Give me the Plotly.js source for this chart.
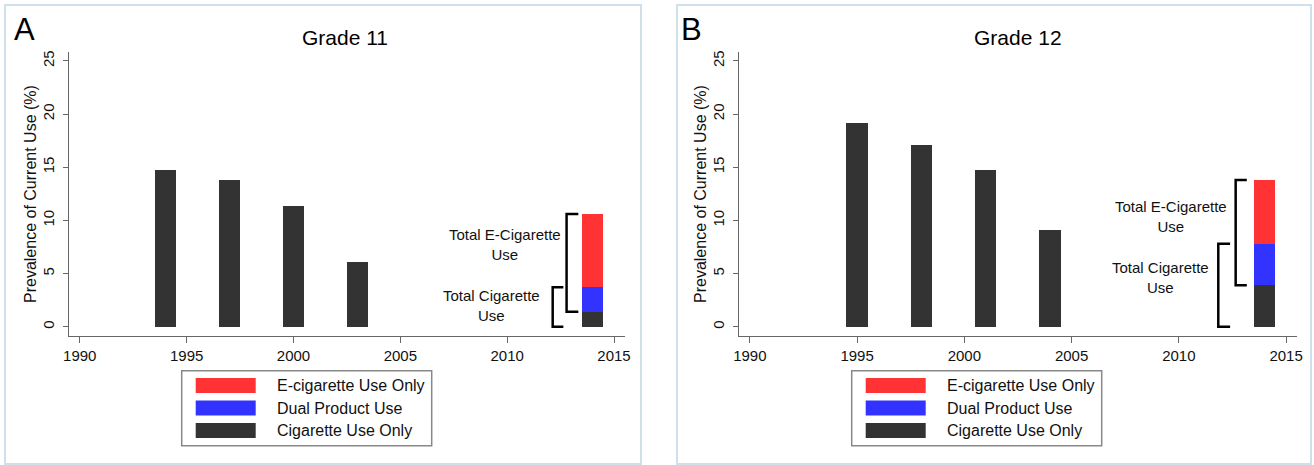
<!DOCTYPE html>
<html><head><meta charset="utf-8">
<script src="https://cdn.plot.ly/plotly-3.0.1.min.js"></script>
<style>html,body{margin:0;padding:0;background:#fff;}#chart{width:1314px;height:465px;}</style>
</head><body><div id="chart"></div>
<script>
// ---------- data ----------
const panelTitles = ["Grade 11", "Grade 12"];
const panelLetters = ["A", "B"];
const seriesNames = ["E-cigarette Use Only", "Dual Product Use", "Cigarette Use Only"];
const seriesColors = ["#ff3333", "#3333ff", "#333333"];
const yearsG11 = [1994, 1997, 2000, 2003];
const cigG11 = [14.7, 13.8, 11.4, 6.05];
const yearsG12 = [1995, 1998, 2001, 2004];
const cigG12 = [19.2, 17.1, 14.7, 9.1];
const stackYear = 2014;
const cigOnly2014 = [1.4, 3.9];   // Grade 11, Grade 12
const dual2014 = [2.3, 3.9];
const ecigOnly2014 = [6.9, 6.0];
const xTicks = [1990, 1995, 2000, 2005, 2010, 2015];
const yTicks = [0, 5, 10, 15, 20, 25];
const bracketLabels = ["Total E-Cigarette<br>Use", "Total Cigarette<br>Use"];
const yTitle = "Prevalence of Current Use (%)";

// ---------- layout helpers ----------
const W = 1314, H = 465;
const px = x => x / W;
const py = y => 1 - y / H;
const FONT = "Liberation Sans, Arial, Helvetica, sans-serif";
const AX = "#666666";

const panels = [
  {years: yearsG11, cig: cigG11, xa: "x", ya: "y", dom: [69.1, 624.7],
   frame: [5, 641], letter: [24, 30], title: [345, 37], ytitle: 30,
   br: {e: [2012.78, 2013.33], c: [2012.13, 2012.63]},
   lab: {e: [2012.6, 7.78], c: [2011.65, 1.97]},
   leg: 181.7},
  {years: yearsG12, cig: cigG12, xa: "x2", ya: "y2", dom: [739.1, 1296.8],
   frame: [677, 1311], letter: [691, 29], title: [1018, 37], ytitle: 700,
   br: {e: [2012.65, 2013.17], c: [2011.84, 2012.39]},
   lab: {e: [2012.32, 10.35], c: [2011.5, 4.6]},
   leg: 851.7}
];

const traces = [];
const shapes = [];
const annotations = [];

panels.forEach((p, i) => {
  traces.push({type: "bar", name: seriesNames[2], x: p.years.concat([stackYear]),
    y: p.cig.concat([cigOnly2014[i]]), xaxis: p.xa, yaxis: p.ya, width: 1,
    marker: {color: seriesColors[2], line: {width: 0}}, showlegend: false, hoverinfo: "x+y"});
  traces.push({type: "bar", name: seriesNames[1], x: [stackYear], y: [dual2014[i]],
    xaxis: p.xa, yaxis: p.ya, width: 1,
    marker: {color: seriesColors[1], line: {width: 0}}, showlegend: false, hoverinfo: "x+y"});
  traces.push({type: "bar", name: seriesNames[0], x: [stackYear], y: [ecigOnly2014[i]],
    xaxis: p.xa, yaxis: p.ya, width: 1,
    marker: {color: seriesColors[0], line: {width: 0}}, showlegend: false, hoverinfo: "x+y"});

  // frame
  shapes.push({type: "rect", xref: "paper", yref: "paper",
    x0: px(p.frame[0]), x1: px(p.frame[1]), y0: py(464), y1: py(5),
    line: {color: "#cfe0ea", width: 2}, layer: "below"});

  // brackets (from data totals)
  const tot = cigOnly2014[i] + dual2014[i] + ecigOnly2014[i];
  const cigTot = cigOnly2014[i] + dual2014[i];
  const bpath = (xv, xa, top, bot) => `M ${xa},${top} L ${xv},${top} L ${xv},${bot} L ${xa},${bot}`;
  shapes.push({type: "path", xref: p.xa, yref: p.ya,
    path: bpath(p.br.e[0], p.br.e[1], tot, cigOnly2014[i]), line: {color: "#000", width: 2.5}});
  shapes.push({type: "path", xref: p.xa, yref: p.ya,
    path: bpath(p.br.c[0], p.br.c[1], cigTot, 0), line: {color: "#000", width: 2.5}});

  annotations.push({xref: p.xa, yref: p.ya, x: p.lab.e[0], y: p.lab.e[1], text: bracketLabels[0],
    xanchor: "right", yanchor: "middle", align: "center", showarrow: false,
    font: {family: FONT, size: 15, color: "#111"}});
  annotations.push({xref: p.xa, yref: p.ya, x: p.lab.c[0], y: p.lab.c[1], text: bracketLabels[1],
    xanchor: "right", yanchor: "middle", align: "center", showarrow: false,
    font: {family: FONT, size: 15, color: "#111"}});

  // y-axis title
  annotations.push({xref: "paper", yref: "paper", x: px(p.ytitle), y: py(194),
    text: yTitle, textangle: -90, showarrow: false, xanchor: "center", yanchor: "middle",
    font: {family: FONT, size: 16, color: "#111"}});

  // panel letter and title
  annotations.push({xref: "paper", yref: "paper", x: px(p.letter[0]), y: py(p.letter[1]),
    text: panelLetters[i], showarrow: false, xanchor: "center", yanchor: "middle",
    font: {family: FONT, size: 31, color: "#000"}});
  annotations.push({xref: "paper", yref: "paper", x: px(p.title[0]), y: py(p.title[1]),
    text: panelTitles[i], showarrow: false, xanchor: "center", yanchor: "middle",
    font: {family: FONT, size: 21, color: "#000"}});

  // legend box
  const L = p.leg;
  shapes.push({type: "rect", xref: "paper", yref: "paper",
    x0: px(L), x1: px(L + 250), y0: py(445.7), y1: py(370.7),
    line: {color: "#888", width: 1.5}});
  const rowsY = [385.5, 408, 430.5];
  seriesNames.forEach((nm, k) => {
    shapes.push({type: "rect", xref: "paper", yref: "paper",
      x0: px(L + 14), x1: px(L + 74), y0: py(rowsY[k] + 7.5), y1: py(rowsY[k] - 7.5),
      fillcolor: seriesColors[k], line: {width: 0}});
    annotations.push({xref: "paper", yref: "paper", x: px(L + 93.3), y: py(rowsY[k]),
      text: nm, showarrow: false, xanchor: "left", yanchor: "middle",
      font: {family: FONT, size: 16, color: "#111"}});
  });
});

function xAxis(p) {
  return {domain: [px(p.dom[0]), px(p.dom[1])], range: [1989.5, 2015.5],
    tickvals: xTicks, ticktext: xTicks.map(String), ticks: "outside", ticklen: 6, tickwidth: 1,
    tickcolor: AX, showline: true, linecolor: AX, linewidth: 1, showgrid: false, zeroline: false,
    tickfont: {family: FONT, size: 15, color: "#111"}, fixedrange: true};
}
function yAxis(p, anchor) {
  return {domain: [py(336), py(51.7)], range: [-0.875, 25.87], anchor: anchor,
    tickvals: yTicks, ticktext: yTicks.map(String), ticks: "outside", ticklen: 5, tickwidth: 1,
    tickcolor: AX, showline: true, linecolor: AX, linewidth: 1, showgrid: false, zeroline: false,
    tickangle: -90, ticklabelstandoff: 3, tickfont: {family: FONT, size: 15, color: "#111"},
    fixedrange: true};
}

const layout = {
  width: W, height: H, margin: {l: 0, r: 0, t: 0, b: 0},
  paper_bgcolor: "#ffffff", plot_bgcolor: "#ffffff",
  barmode: "stack", showlegend: false,
  xaxis: Object.assign(xAxis(panels[0]), {anchor: "y"}),
  yaxis: yAxis(panels[0], "x"),
  xaxis2: Object.assign(xAxis(panels[1]), {anchor: "y2"}),
  yaxis2: yAxis(panels[1], "x2"),
  shapes: shapes, annotations: annotations
};

Plotly.newPlot("chart", traces, layout, {displayModeBar: false, staticPlot: true});
</script></body></html>
